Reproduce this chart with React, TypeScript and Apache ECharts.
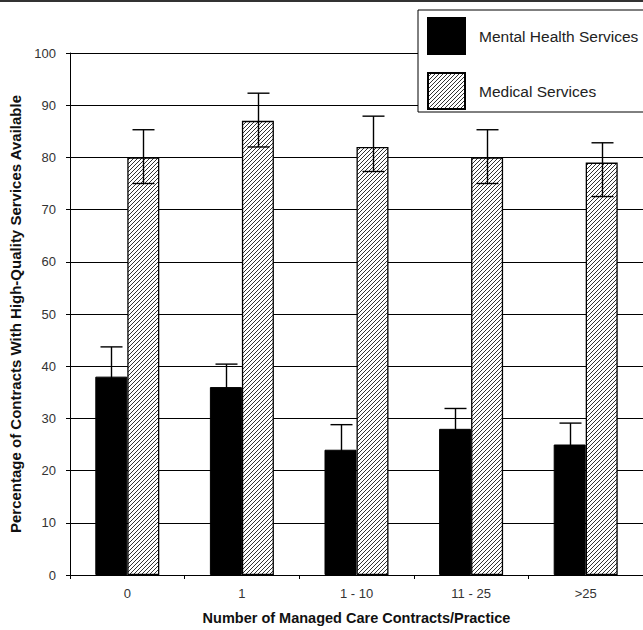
import React, { useEffect, useRef } from "react";
import * as echarts from "echarts";

const categories = ["0", "1", "1 - 10", "11 - 25", ">25"];
const mentalValues = [38, 36, 24, 28, 25];
const mentalLow = [32.3, 31.6, 19.2, 24.1, 20.9];
const mentalHigh = [43.7, 40.4, 28.8, 31.9, 29.1];
const medicalValues = [80, 87, 82, 80, 79];
const medicalLow = [75.0, 82.0, 77.3, 75.0, 72.5];
const medicalHigh = [85.3, 92.3, 87.9, 85.3, 82.8];
const seriesNames = ["Mental Health Services", "Medical Services"];

const BAR_W = 32;
const CAP = 11;

function makeHatch() {
  const cv = document.createElement("canvas");
  cv.width = 4;
  cv.height = 4;
  const ctx = cv.getContext("2d")!;
  ctx.fillStyle = "#ffffff";
  ctx.fillRect(0, 0, 4, 4);
  ctx.fillStyle = "#333333";
  for (let i = 0; i < 4; i++) ctx.fillRect(i, 3 - i, 1, 1);
  return cv;
}

function errorRender(offset: number) {
  return (params: any, api: any) => {
    const idx = api.value(0);
    const lo = api.coord([idx, api.value(1)]);
    const hi = api.coord([idx, api.value(2)]);
    const x = Math.round(hi[0] + offset) + 0.5;
    const style = { stroke: "#000", lineWidth: 1.4 };
    return {
      type: "group",
      children: [
        { type: "line", shape: { x1: x, y1: lo[1], x2: x, y2: hi[1] }, style },
        { type: "line", shape: { x1: x - CAP, y1: hi[1], x2: x + CAP, y2: hi[1] }, style },
        { type: "line", shape: { x1: x - CAP, y1: lo[1], x2: x + CAP, y2: lo[1] }, style },
      ],
    };
  };
}

export default function App() {
  const ref = useRef<HTMLDivElement>(null);
  useEffect(() => {
    if (!ref.current) return;
    const chart = echarts.init(ref.current, undefined, { renderer: "svg" });
    const hatch = { image: makeHatch(), repeat: "repeat" } as any;
    const font = "Liberation Sans, Arial, sans-serif";
    chart.setOption({
      animation: false,
      backgroundColor: "#fff",
      textStyle: { fontFamily: font },
      grid: { left: 70, top: 53, width: 575, height: 526.5, containLabel: false },
      legend: {
        orient: "vertical",
        left: 418,
        top: 10,
        padding: [7, 40, 2, 9],
        itemGap: 17,
        itemWidth: 37,
        itemHeight: 36,
        icon: "rect",
        borderColor: "#000",
        borderWidth: 1,
        backgroundColor: "#fff",
        data: seriesNames,
        textStyle: { fontSize: 15.5, color: "#222", fontFamily: font, padding: [0, 0, 0, 9] },
      },
      xAxis: {
        type: "category",
        data: categories,
        boundaryGap: true,
        axisLine: { lineStyle: { color: "#000", width: 1 } },
        axisTick: { show: true, length: 4, lineStyle: { color: "#000" } },
        axisLabel: { fontSize: 13, color: "#333", margin: 12 },
        name: "Number of Managed Care Contracts/Practice",
        nameLocation: "middle",
        nameGap: 35,
        nameTextStyle: { fontSize: 14.5, fontWeight: "bold", color: "#111" },
      },
      yAxis: {
        type: "value",
        min: 0,
        max: 100,
        interval: 10,
        axisLine: { show: true, lineStyle: { color: "#000", width: 1 } },
        axisTick: { show: true, length: 4, lineStyle: { color: "#000" } },
        axisLabel: { fontSize: 13, color: "#333", margin: 14 },
        splitLine: { show: true, lineStyle: { color: "#000", width: 1 } },
        name: "Percentage of Contracts With High-Quality Services Available",
        nameLocation: "middle",
        nameGap: 45,
        nameTextStyle: { fontSize: 15, fontWeight: "bold", color: "#111" },
      },
      series: [
        {
          name: seriesNames[0],
          type: "bar",
          data: mentalValues,
          barWidth: BAR_W,
          barGap: "0%",
          itemStyle: { color: "#000", borderColor: "#000", borderWidth: 1 },
        },
        {
          name: seriesNames[1],
          type: "bar",
          data: medicalValues,
          barWidth: BAR_W,
          barGap: "0%",
          itemStyle: { color: hatch, borderColor: "#000", borderWidth: 1.3 },
        },
        {
          type: "custom",
          name: "mentalErr",
          renderItem: errorRender(-BAR_W / 2),
          data: categories.map((_, i) => [i, mentalLow[i], mentalHigh[i]]),
          encode: { x: 0, y: [1, 2] },
          z: 10,
        },
        {
          type: "custom",
          name: "medicalErr",
          renderItem: errorRender(BAR_W / 2),
          data: categories.map((_, i) => [i, medicalLow[i], medicalHigh[i]]),
          encode: { x: 0, y: [1, 2] },
          z: 10,
        },
      ],
      graphic: [
        {
          type: "line",
          shape: { x1: 0, y1: 1, x2: 643, y2: 1 },
          style: { stroke: "#333", lineWidth: 2 },
          z: 100,
        },
      ],
    });
    return () => chart.dispose();
  }, []);
  return (
    <div
      ref={ref}
      style={{ position: "fixed", left: 0, top: 0, width: 643, height: 630, background: "#fff" }}
    />
  );
}
